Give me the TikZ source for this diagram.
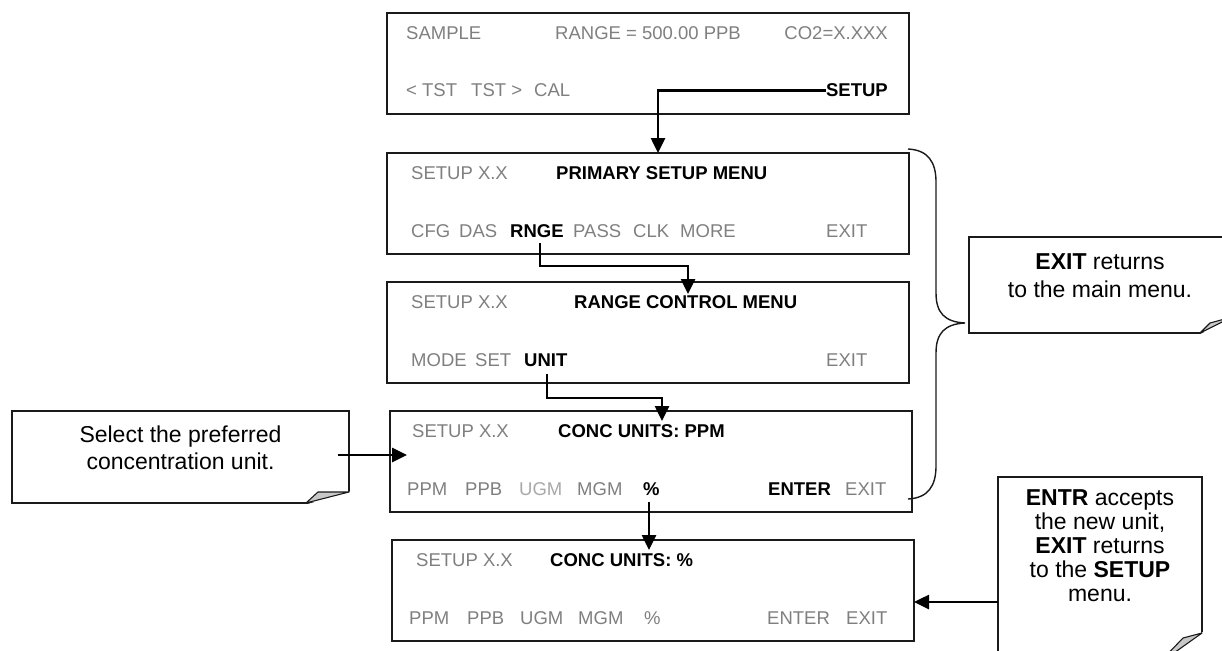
\documentclass[tikz,border=0pt]{standalone}
\usepackage{fontspec}
\setmainfont{Liberation Sans}
\usetikzlibrary{arrows.meta,calc}
\definecolor{keygray}{HTML}{7F7F7F}
\definecolor{dimkey}{HTML}{A8A8A8}
\definecolor{foldgray}{HTML}{C8C8C8}
\definecolor{edge}{HTML}{1A1A1A}
\begin{document}
\begin{tikzpicture}[x=1pt,y=-1pt,
  screen/.style={draw=edge,line width=1.6pt,anchor=north west,inner sep=0pt,outer sep=0pt,minimum height=101pt},
  key/.style={anchor=base west,inner sep=0pt,text=keygray,font=\fontsize{18.5}{22}\selectfont},
  keyr/.style={key,anchor=base east},
  keyon/.style={key,text=black,font=\fontsize{18.5}{22}\selectfont\bfseries},
  keyonr/.style={keyon,anchor=base east},
  conn/.style={line width=2.6pt,draw=black,-{Triangle[length=15pt,width=14pt]}},
  callout/.style={draw=edge,line width=1.4pt,fill=white,anchor=north west,inner sep=0pt,outer sep=0pt},
  notetext/.style={align=center,inner sep=0pt,text=black},
  fold/.style={draw=edge,line width=1.1pt,fill=foldgray,line join=round},
  brace/.style={draw=edge,line width=1.4pt}]
\useasboundingbox (0,0) rectangle (1222,650);
\clip (0,0) rectangle (1222,650);

% ---------- screens ----------
\node[screen,minimum width=522pt] (b1) at (387,13) {};
\node[screen,minimum width=522pt] (b2) at (387,153) {};
\node[screen,minimum width=522pt] (b3) at (387,282) {};
\node[screen,minimum width=522pt] (b4) at (390,411) {};
\node[screen,minimum width=522pt] (b5) at (392,540) {};

% box 1
\node[key] (b1sample) at (406,39.6) {SAMPLE};
\node[key] (b1range) at (555,39.6) {RANGE = 500.00 PPB};
\node[keyr] (b1co2) at (888,39.6) {CO2=X.XXX};
\node[key] (b1tstl) at (406,97) {< TST};
\node[key] (b1tstr) at (471,97) {TST >};
\node[key] (b1cal) at (534,97) {CAL};
\node[keyonr] (setupk) at (888,97) {SETUP};

% box 2
\node[key] (b2setup) at (411,179.6) {SETUP X.X};
\node[keyon] (b2title) at (556,179.6) {PRIMARY SETUP MENU};
\node[key] (b2cfg) at (411,237) {CFG};
\node[key] (b2das) at (459,237) {DAS};
\node[keyon] (rnge) at (510,237) {RNGE};
\node[key] (b2pass) at (573,237) {PASS};
\node[key] (b2clk) at (633,237) {CLK};
\node[key] (b2more) at (680,237) {MORE};
\node[key] (b2exit) at (826,237) {EXIT};

% box 3
\node[key] (b3setup) at (411,308.6) {SETUP X.X};
\node[keyon] (b3title) at (574,308.6) {RANGE CONTROL MENU};
\node[key] (b3mode) at (411,366) {MODE};
\node[key] (b3set) at (475,366) {SET};
\node[keyon] (unit) at (524,366) {UNIT};
\node[key] (b3exit) at (826,366) {EXIT};

% box 4
\node[key] (b4setup) at (412,437.6) {SETUP X.X};
\node[keyon] (b4title) at (558,437.6) {CONC UNITS: PPM};
\node[key] (b4ppm) at (407,495) {PPM};
\node[key] (b4ppb) at (465,495) {PPB};
\node[key,text=dimkey] (b4ugm) at (519,495) {UGM};
\node[key] (b4mgm) at (577,495) {MGM};
\node[keyon] (pct) at (643,495) {\%};
\node[keyon] (b4enter) at (768,495) {ENTER};
\node[key] (b4exit) at (845,495) {EXIT};

% box 5
\node[key] (b5setup) at (416,566.6) {SETUP X.X};
\node[keyon] (b5title) at (550,566.6) {CONC UNITS: \%};
\node[key] (b5ppm) at (409,624) {PPM};
\node[key] (b5ppb) at (467,624) {PPB};
\node[key] (b5ugm) at (520,624) {UGM};
\node[key] (b5mgm) at (578,624) {MGM};
\node[key] (b5pct) at (644,624) {\%};
\node[key] (b5enter) at (767,624) {ENTER};
\node[key] (b5exit) at (846,624) {EXIT};

% ---------- callouts ----------
\node[callout,minimum width=337pt,minimum height=92pt] (c1) at (12,411) {};
\fill[white] (304.5,505) -- (351,505) -- (351,491.2) -- cycle;
\draw[fold] (306,503) -- (349,492) -- (318,492) -- cycle;
\node[notetext,font=\fontsize{23}{27}\selectfont] (c1t) at (180.5,447.5) {Select the preferred\\concentration unit.};

\node[callout,minimum width=263pt,minimum height=96pt] (c2) at (969,237) {};
\fill[white] (1198.5,335) -- (1235,335) -- (1235,316) -- cycle;
\draw[fold] (1200,333) -- (1232,317) -- (1210,323) -- cycle;
\node[notetext,font=\fontsize{23}{28}\selectfont] (c2t) at (1100,276) {\textbf{EXIT} returns\\to the main menu.};

\node[callout,minimum width=204pt,minimum height=190pt] (c3) at (998,477) {};
\fill[white] (1204,631) -- (1204,669) -- (1153,669) -- cycle;
\draw[fold] (1202,633) -- (1157,665) -- (1183,638) -- cycle;
\node[notetext,font=\fontsize{23}{24}\selectfont] (c3t) at (1100,546) {\textbf{ENTR} accepts\\the new unit,\\\textbf{EXIT} returns\\to the \textbf{SETUP}\\menu.};

% ---------- brace ----------
\draw[brace] (908,149) .. controls (928,150) and (936,162) .. (936,182)
  -- (936,293) .. controls (936,313) and (945,322) .. (965,323)
  .. controls (945,324) and (936,333) .. (936,353)
  -- (936,466) .. controls (936,486) and (928,498) .. (908,499);

% ---------- connectors ----------
\coordinate (a1end) at (658,153);
\draw[conn] (setupk.west) -| (a1end);

\coordinate (a2start) at (540,243);
\coordinate (a2end) at (688,294);
\draw[conn] (a2start) |- (688,266) -- (a2end);

\coordinate (a3start) at (547,374);
\coordinate (a3end) at (662,421);
\draw[conn] (a3start) |- (662,398) -- (a3end);

\coordinate (a4start) at (649,502);
\coordinate (a4end) at (649,550);
\draw[conn] (a4start) -- (a4end);

\coordinate (a5start) at (338,455);
\coordinate (a5end) at (407,455);
\draw[conn] (a5start) -- (a5end);

\coordinate (a6start) at (998,602);
\draw[conn] (a6start) -- (b5.east |- a6start);
\end{tikzpicture}
\end{document}
